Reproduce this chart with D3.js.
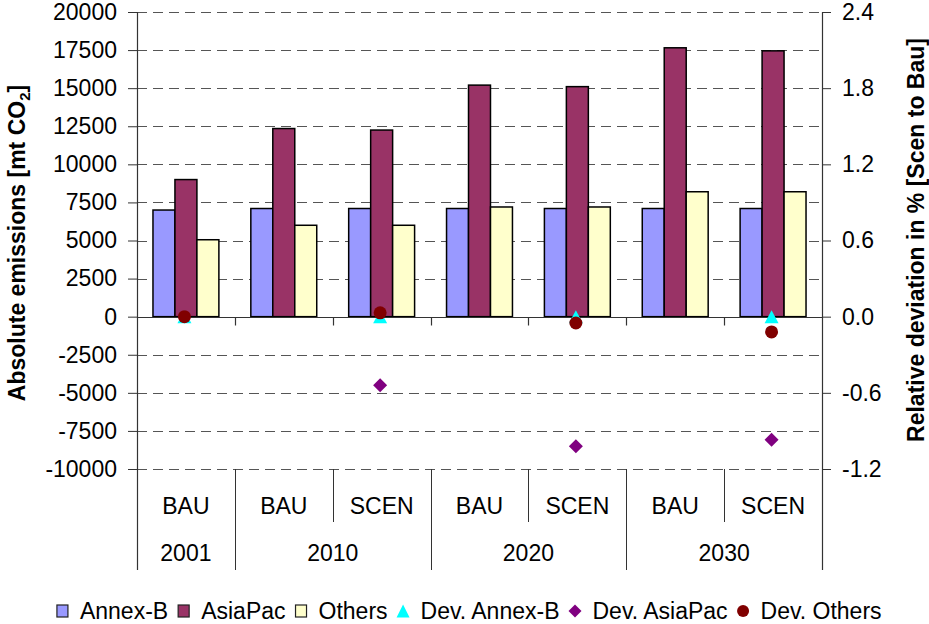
<!DOCTYPE html>
<html>
<head>
<meta charset="utf-8">
<script src="https://cdn.jsdelivr.net/npm/d3@7/dist/d3.min.js"></script>
<style>
  html, body { margin: 0; padding: 0; background: #fff; }
  svg { display: block; font-family: "Liberation Sans", Arial, sans-serif; }
</style>
</head>
<body>
<svg id="chart" width="929" height="624"></svg>
<script>
// ---------- data ----------
const categories    = ["BAU", "BAU", "SCEN", "BAU", "SCEN", "BAU", "SCEN"];
const categoryYears = ["2001", "2010", "2010", "2020", "2020", "2030", "2030"];
const years         = ["2001", "2010", "2020", "2030"];

const seriesNames = ["Annex-B", "AsiaPac", "Others"];
const annexB  = [7000, 7100, 7100, 7100, 7100, 7100, 7100];
const asiaPac = [9000, 12350, 12250, 15200, 15100, 17650, 17450];
const others  = [5050, 6000, 6000, 7200, 7200, 8200, 8200];

const devNames   = ["Dev. Annex-B", "Dev. AsiaPac", "Dev. Others"];
const devAnnexB  = [0, null, 0.0, null, 0.0, null, 0.0];
const devAsiaPac = [null, null, -0.54, null, -1.02, null, -0.97];
const devOthers  = [0, null, 0.03, null, -0.05, null, -0.12];

const leftTicks  = [-10000, -7500, -5000, -2500, 0, 2500, 5000, 7500, 10000, 12500, 15000, 17500, 20000];
const rightTicks = [-1.2, -0.6, 0.0, 0.6, 1.2, 1.8, 2.4];

const leftTitle  = "Absolute emissions [mt CO";
const leftTitleSub = "2";
const rightTitle = "Relative deviation in % [Scen to Bau]";

// ---------- styles ----------
const barColors = ["#9999FF", "#993366", "#FFFFCC"];
const devColors = ["#00FFFF", "#800080", "#800000"];
const FONT = 23;

// ---------- layout ----------
const L = 137, R = 822, T = 12, B = 469;
const svg = d3.select("#chart");

const y  = d3.scaleLinear().domain([-10000, 20000]).range([B, T]);
const yR = d3.scaleLinear().domain([-1.2, 2.4]).range([B, T]);
const ids = categories.map((c, i) => i);
const x  = d3.scaleBand().domain(ids).range([L, R]).padding(0);
const xs = d3.scaleBand().domain(seriesNames).range([0, x.bandwidth()]).paddingInner(0).paddingOuter(0.727);

const loc = d3.formatLocale({decimal: ".", thousands: "", grouping: [3], currency: ["", ""], minus: "-"});
const fmtL = loc.format("d");
const fmtR = loc.format(".1f");

// gridlines
svg.append("g").selectAll("line")
  .data(leftTicks.filter(v => v !== 0))
  .join("line")
  .attr("x1", L).attr("x2", R)
  .attr("y1", d => Math.round(y(d)) + 0.5).attr("y2", d => Math.round(y(d)) + 0.5)
  .attr("stroke", "#555").attr("stroke-width", 1.2)
  .attr("stroke-dasharray", "10,6");

// left axis
const gl = svg.append("g").attr("transform", `translate(${L},0)`)
  .call(d3.axisLeft(y).tickValues(leftTicks).tickFormat(fmtL).tickSize(9).tickSizeOuter(0).tickPadding(11));
gl.select(".domain").remove();
gl.selectAll(".tick line").attr("stroke", "#333");
gl.selectAll(".tick text").attr("font-size", FONT).attr("fill", "#000").attr("font-family", "Liberation Sans, Arial, sans-serif");

// right axis
const gr = svg.append("g").attr("transform", `translate(${R},0)`)
  .call(d3.axisRight(yR).tickValues(rightTicks).tickFormat(fmtR).tickSize(9).tickSizeOuter(0).tickPadding(11));
gr.select(".domain").remove();
gr.selectAll(".tick line").attr("stroke", "#333");
gr.selectAll(".tick text").attr("font-size", FONT).attr("fill", "#000").attr("font-family", "Liberation Sans, Arial, sans-serif");

// bars
const seriesVals = [annexB, asiaPac, others];
const barG = svg.append("g");
seriesVals.forEach((vals, s) => {
  barG.append("g").selectAll("rect")
    .data(vals.map((v, i) => ({i, v})))
    .join("rect")
    .attr("x", d => x(d.i) + xs(seriesNames[s]))
    .attr("y", d => y(Math.max(0, d.v)))
    .attr("width", xs.bandwidth())
    .attr("height", d => Math.abs(y(d.v) - y(0)))
    .attr("fill", barColors[s])
    .attr("stroke", "#000").attr("stroke-width", 1.5);
});

// category axis at zero
const y0 = Math.round(y(0)) + 0.5;
svg.append("line").attr("x1", L).attr("x2", R).attr("y1", y0).attr("y2", y0)
  .attr("stroke", "#333").attr("stroke-width", 1.2);
svg.append("g").selectAll("line")
  .data(ids.slice(1))
  .join("line")
  .attr("x1", d => Math.round(x(d)) + 0.5).attr("x2", d => Math.round(x(d)) + 0.5)
  .attr("y1", y0).attr("y2", y0 + 8)
  .attr("stroke", "#333").attr("stroke-width", 1.2);

// vertical axes lines (extend through category label area)
[L, R].forEach(px => {
  svg.append("line").attr("x1", px + 0.5).attr("x2", px + 0.5).attr("y1", T).attr("y2", 570)
    .attr("stroke", "#333").attr("stroke-width", 1.2);
});

// category labels area
const labG = svg.append("g").attr("font-size", FONT).attr("text-anchor", "middle").attr("fill", "#000");
labG.selectAll("text.cat")
  .data(ids).join("text").attr("class", "cat")
  .attr("x", d => x(d) + x.bandwidth() / 2).attr("y", 514)
  .text(d => categories[d]);

years.forEach(yr => {
  const idx = ids.filter(i => categoryYears[i] === yr);
  const x0 = x(idx[0]), x1 = x(idx[idx.length - 1]) + x.bandwidth();
  labG.append("text").attr("x", (x0 + x1) / 2).attr("y", 561).text(yr);
});
// separators
ids.slice(1).forEach(i => {
  const newYear = categoryYears[i] !== categoryYears[i - 1];
  const px = Math.round(x(i)) + 0.5;
  svg.append("line").attr("x1", px).attr("x2", px).attr("y1", B).attr("y2", newYear ? 570 : 522)
    .attr("stroke", "#333").attr("stroke-width", 1);
});

// deviation markers
const triPath = (w, h) => `M0,${-h/2}L${w/2},${h/2}L${-w/2},${h/2}Z`;
const diaPath = (w, h) => `M0,${-h/2}L${w/2},0L0,${h/2}L${-w/2},0Z`;
const devVals = [devAnnexB, devAsiaPac, devOthers];
const mk = svg.append("g");
devVals.forEach((vals, s) => {
  const pts = vals.map((v, i) => ({i, v})).filter(d => d.v !== null);
  const sel = mk.append("g").selectAll("g").data(pts).join("g")
    .attr("transform", d => `translate(${x(d.i) + x.bandwidth() / 2 - 1.5},${yR(d.v)})`);
  if (s === 0) sel.append("path").attr("d", triPath(14, 13)).attr("fill", devColors[0]);
  if (s === 1) sel.append("path").attr("d", diaPath(14, 14)).attr("fill", devColors[1]);
  if (s === 2) sel.append("circle").attr("r", 6.5).attr("fill", devColors[2]);
});

// axis titles
const lt = svg.append("text")
  .attr("transform", "translate(25,243) rotate(-90)")
  .attr("text-anchor", "middle").attr("font-size", FONT).attr("font-weight", "bold").attr("fill", "#000");
lt.append("tspan").text(leftTitle);
lt.append("tspan").attr("font-size", 15).attr("dy", 5).text(leftTitleSub);
lt.append("tspan").attr("dy", -5).text("]");

svg.append("text")
  .attr("transform", "translate(924,240) rotate(-90)")
  .attr("text-anchor", "middle").attr("font-size", FONT).attr("font-weight", "bold").attr("fill", "#000")
  .text(rightTitle);

// legend
const legItems = seriesNames.map((n, i) => ({name: n, kind: "rect", color: barColors[i]}))
  .concat(devNames.map((n, i) => ({name: n, kind: ["tri", "dia", "circ"][i], color: devColors[i]})));
const leg = svg.append("g");
let cx = 0;
const symW = 12, gapA = 11.5, gapB = 9.5, legY = 618.5;
legItems.forEach(it => {
  const g = leg.append("g");
  const sc = cx + symW / 2, sy = legY - 7.5;
  if (it.kind === "rect") {
    g.append("rect").attr("x", cx + 0.5).attr("y", sy - 6).attr("width", 11).attr("height", 12)
      .attr("fill", it.color).attr("stroke", "#222").attr("stroke-width", 1.2);
  } else if (it.kind === "tri") {
    g.append("path").attr("transform", `translate(${sc},${sy})`).attr("d", triPath(13, 13)).attr("fill", it.color);
  } else if (it.kind === "dia") {
    g.append("path").attr("transform", `translate(${sc},${sy})`).attr("d", diaPath(13, 13)).attr("fill", it.color);
  } else {
    g.append("circle").attr("cx", sc).attr("cy", sy).attr("r", 6).attr("fill", it.color);
  }
  const t = g.append("text").attr("x", cx + symW + gapA).attr("y", legY)
    .attr("font-size", FONT).attr("fill", "#000").text(it.name);
  cx += symW + gapA + t.node().getComputedTextLength() + gapB;
});
const totalW = cx - gapB;
leg.attr("transform", `translate(${469 - totalW / 2},0)`);
</script>
</body>
</html>
